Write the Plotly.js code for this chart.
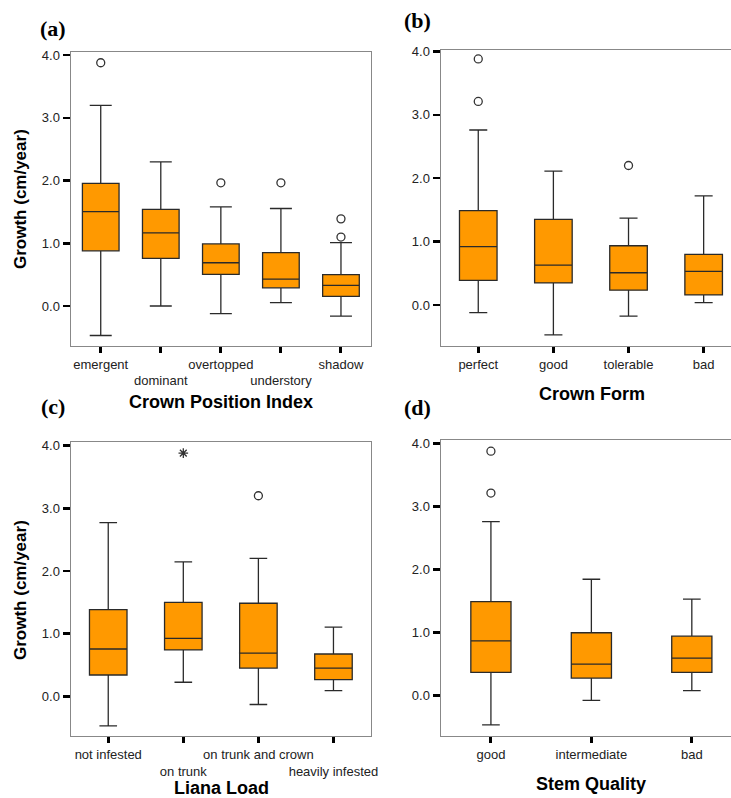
<!DOCTYPE html>
<html>
<head>
<meta charset="utf-8">
<script src="https://cdn.plot.ly/plotly-3.0.1.min.js"></script>
<style>html,body{margin:0;padding:0;background:#fff;}#chart{width:731px;height:798px;}</style>
</head>
<body>
<div id="chart"></div>
<script>
// ---- Panel (a): Crown Position Index ----
var catsA   = ["emergent", "dominant", "overtopped", "understory", "shadow"];
var labelsA = ["emergent", "<br>dominant", "overtopped", "<br>understory", "shadow"];
var q1A     = [0.88, 0.76, 0.505, 0.29, 0.155];
var medA    = [1.505, 1.165, 0.69, 0.43, 0.33];
var q3A     = [1.955, 1.54, 0.99, 0.85, 0.50];
var loA     = [-0.47, 0.0, -0.12, 0.055, -0.16];
var hiA     = [3.20, 2.30, 1.58, 1.555, 1.01];
var outXA   = ["emergent", "overtopped", "understory", "shadow", "shadow"];
var outYA   = [3.88, 1.965, 1.965, 1.39, 1.10];

// ---- Panel (b): Crown Form ----
var catsB = ["perfect", "good", "tolerable", "bad"];
var q1B   = [0.39, 0.35, 0.235, 0.16];
var medB  = [0.92, 0.63, 0.51, 0.53];
var q3B   = [1.49, 1.35, 0.935, 0.80];
var loB   = [-0.12, -0.47, -0.175, 0.04];
var hiB   = [2.76, 2.11, 1.37, 1.72];
var outXB = ["perfect", "perfect", "tolerable"];
var outYB = [3.88, 3.21, 2.20];

// ---- Panel (c): Liana Load ----
var catsC   = ["not infested", "on trunk", "on trunk and crown", "heavily infested"];
var labelsC = ["not infested", "<br>on trunk", "on trunk and crown", "<br>heavily infested"];
var q1C   = [0.34, 0.74, 0.45, 0.265];
var medC  = [0.755, 0.925, 0.69, 0.45];
var q3C   = [1.385, 1.50, 1.485, 0.675];
var loC   = [-0.47, 0.225, -0.13, 0.09];
var hiC   = [2.77, 2.145, 2.20, 1.105];
var outXC = ["on trunk and crown"];
var outYC = [3.20];
var extXC = ["on trunk"];
var extYC = [3.88];

// ---- Panel (d): Stem Quality ----
var catsD = ["good", "intermediate", "bad"];
var q1D   = [0.365, 0.275, 0.365];
var medD  = [0.865, 0.495, 0.59];
var q3D   = [1.49, 0.995, 0.94];
var loD   = [-0.47, -0.08, 0.075];
var hiD   = [2.76, 1.845, 1.53];
var outXD = ["good", "good"];
var outYD = [3.88, 3.215];

var FILL = "#FF9900";
var LINE = "#2a2a2a";
function boxTrace(cats, q1, med, q3, lo, hi, xa, ya, w, ww) {
  return {
    type: "box", x: cats, q1: q1, median: med, q3: q3,
    lowerfence: lo, upperfence: hi, boxpoints: false,
    xaxis: xa, yaxis: ya, width: w, whiskerwidth: ww,
    fillcolor: FILL, line: {color: LINE, width: 1.3},
    hoverinfo: "skip", showlegend: false
  };
}
function outTrace(x, y, xa, ya, sym) {
  return {
    type: "scatter", mode: "markers", x: x, y: y, xaxis: xa, yaxis: ya,
    marker: {symbol: sym, size: 8, color: "#333", line: {color: "#333", width: 1.3}},
    hoverinfo: "skip", showlegend: false
  };
}

var data = [
  boxTrace(catsA, q1A, medA, q3A, loA, hiA, "x", "y", 0.61, 0.6),
  outTrace(outXA, outYA, "x", "y", "circle-open"),
  boxTrace(catsB, q1B, medB, q3B, loB, hiB, "x2", "y2", 0.5, 0.48),
  outTrace(outXB, outYB, "x2", "y2", "circle-open"),
  boxTrace(catsC, q1C, medC, q3C, loC, hiC, "x3", "y3", 0.5, 0.47),
  outTrace(outXC, outYC, "x3", "y3", "circle-open"),
  outTrace(extXC, extYC, "x3", "y3", "asterisk-open"),
  boxTrace(catsD, q1D, medD, q3D, loD, hiD, "x4", "y4", 0.4, 0.44),
  outTrace(outXD, outYD, "x4", "y4", "circle-open")
];

var W = 731, H = 798;
function px(x) { return x / W; }
function py(y) { return 1 - y / H; }
var FONT = "Liberation Sans, Arial, sans-serif";
var tickFont = {family: FONT, size: 13, color: "#222"};

function xAxis(domain, range, cats, labels, anchor) {
  return {
    domain: domain, range: range, type: "category", anchor: anchor,
    tickmode: "array", tickvals: cats, ticktext: labels, tickangle: 0,
    showline: true, linecolor: "#888", linewidth: 1.2, mirror: true,
    ticks: "outside", ticklen: 6, tickwidth: 3, tickcolor: "#000",
    tickfont: tickFont, showgrid: false, zeroline: false, fixedrange: true
  };
}
function yAxis(domain, range, anchor, mirror) {
  return {
    domain: domain, range: range, anchor: anchor,
    tick0: 0, dtick: 1, tickformat: ".1f",
    showline: true, linecolor: "#888", linewidth: 1.2, mirror: mirror,
    ticks: "outside", ticklen: 7, tickwidth: 2.5, tickcolor: "#000",
    tickfont: tickFont, showgrid: false, zeroline: false, fixedrange: true
  };
}

var layout = {
  width: W, height: H,
  margin: {l: 0, r: 0, t: 0, b: 0},
  paper_bgcolor: "#fff", plot_bgcolor: "#fff",
  showlegend: false,
  xaxis:  xAxis([px(70.7), px(371)], [-0.5, 4.5], catsA, labelsA, "y"),
  yaxis:  yAxis([py(345.7), py(51.7)], [-0.633, 4.056], "x", true),
  xaxis2: xAxis([px(440.7), 1], [-0.5, 3.364], catsB, catsB, "y2"),
  yaxis2: yAxis([py(346), py(50.3)], [-0.645, 4.016], "x2", false),
  xaxis3: xAxis([px(70.7), px(371)], [-0.5, 3.5], catsC, labelsC, "y3"),
  yaxis3: yAxis([py(736), py(442)], [-0.633, 4.058], "x3", true),
  xaxis4: xAxis([px(440.7), 1], [-0.5, 2.39], catsD, catsD, "y4"),
  yaxis4: yAxis([py(736), py(440.3)], [-0.646, 4.053], "x4", false),
  annotations: [
    {text: "<b>(a)</b>", x: px(53), y: py(28), font: {family: "Liberation Serif, Times New Roman, serif", size: 22, color: "#000"}},
    {text: "<b>(b)</b>", x: px(417), y: py(21), font: {family: "Liberation Serif, Times New Roman, serif", size: 22, color: "#000"}},
    {text: "<b>(c)</b>", x: px(53), y: py(406), font: {family: "Liberation Serif, Times New Roman, serif", size: 22, color: "#000"}},
    {text: "<b>(d)</b>", x: px(417), y: py(407), font: {family: "Liberation Serif, Times New Roman, serif", size: 22, color: "#000"}},
    {text: "<b>Crown Position Index</b>", x: px(220.5), y: py(401.7), font: {family: FONT, size: 18, color: "#000"}},
    {text: "<b>Crown Form</b>", x: px(591.7), y: py(394), font: {family: FONT, size: 18, color: "#000"}},
    {text: "<b>Liana Load</b>", x: px(221.7), y: py(788), font: {family: FONT, size: 18, color: "#000"}},
    {text: "<b>Stem Quality</b>", x: px(591), y: py(784), font: {family: FONT, size: 18, color: "#000"}},
    {text: "<b>Growth (cm/year)</b>", x: px(20), y: py(199), textangle: -90, font: {family: FONT, size: 17, color: "#000"}},
    {text: "<b>Growth (cm/year)</b>", x: px(20), y: py(590), textangle: -90, font: {family: FONT, size: 17, color: "#000"}}
  ].map(function (a) {
    a.xref = "paper"; a.yref = "paper"; a.showarrow = false;
    a.xanchor = "center"; a.yanchor = "middle";
    return a;
  })
};

Plotly.newPlot("chart", data, layout, {displayModeBar: false, staticPlot: true});
</script>
</body>
</html>
